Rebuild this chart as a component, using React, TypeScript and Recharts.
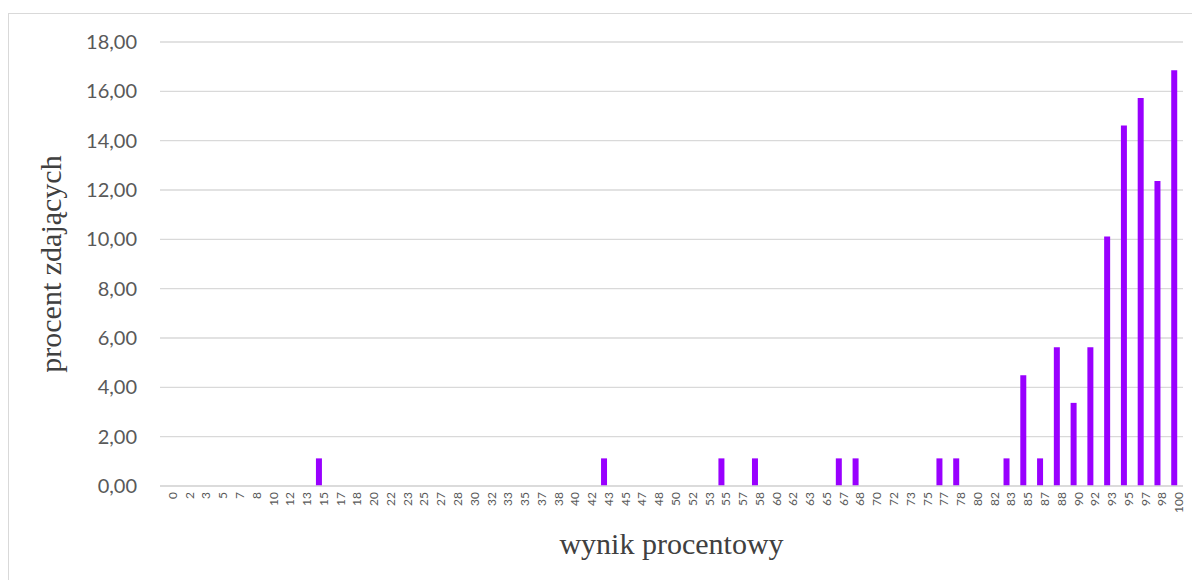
import React from "react";
import { BarChart, Bar, XAxis, YAxis, CartesianGrid } from "recharts";

const categories = [
  "0","2","3","5","7","8","10","12","13","15","17","18","20","22","23","25","27","28","30","32","33","35","37","38","40","42","43","45","47","48","50","52","53","55","57","58","60","62","63","65","67","68","70","72","73","75","77","78","80","82","83","85","87","88","90","92","93","95","97","98","100",
];

const nonZero: Record<string, number> = {
  "15": 1.12, "43": 1.12, "55": 1.12, "58": 1.12, "67": 1.12, "68": 1.12,
  "77": 1.12, "78": 1.12, "83": 1.12, "85": 4.49, "87": 1.12, "88": 5.62,
  "90": 3.37, "92": 5.62, "93": 10.11, "95": 14.61, "97": 15.73, "98": 12.36,
  "100": 16.85,
};

const percentValues = categories.map((c) => nonZero[c] ?? 0);

const yTicks = [0, 2, 4, 6, 8, 10, 12, 14, 16, 18];

const data = categories.map((c, i) => ({ wynik: c, procent: percentValues[i] }));

const TICK_FONT = "Lato, 'Liberation Sans', sans-serif";
const TITLE_FONT = "'Liberation Serif', serif";

const YTitle = (props: any) => {
  const vb = props.viewBox || {};
  const cx = 41;
  const cy = vb.y + vb.height / 2;
  return (
    <text
      x={cx}
      y={cy}
      transform={`rotate(-90, ${cx}, ${cy})`}
      textAnchor="middle"
      dominantBaseline="central"
      fontFamily={TITLE_FONT}
      fontSize={30}
      fill="#404040"
    >
      procent zdających
    </text>
  );
};

const XTitle = (props: any) => {
  const vb = props.viewBox || {};
  const cx = vb.x + vb.width / 2;
  const cy = 529;
  return (
    <text
      x={cx}
      y={cy}
      textAnchor="middle"
      dominantBaseline="central"
      fontFamily={TITLE_FONT}
      fontSize={30}
      fill="#404040"
    >
      wynik procentowy
    </text>
  );
};

export default function App() {
  return (
    <div
      style={{
        marginTop: 5,
        borderLeft: "1px solid #d9d9d9",
        borderTop: "1px solid #d9d9d9",
        width: 1300,
        height: 600,
        background: "#fff",
      }}
    >
      <BarChart
        width={1184}
        height={566}
        data={data}
        margin={{ top: 28, right: 10, left: 0, bottom: 0 }}
        barCategoryGap={0}
      >
        <CartesianGrid vertical={false} stroke="#d9d9d9" strokeWidth={1.3} />
        <XAxis
          dataKey="wynik"
          interval={0}
          height={94}
          tickLine={false}
          tickSize={0}
          tickMargin={6}
          axisLine={{ stroke: "#d9d9d9", strokeWidth: 1.5 }}
          tick={{
            fontSize: 12,
            fill: "#595959",
            fontFamily: TICK_FONT,
            angle: -90,
            textAnchor: "end",
            verticalAnchor: "middle",
          } as any}
          label={<XTitle />}
        />
        <YAxis
          width={151}
          domain={[0, 18]}
          ticks={yTicks}
          interval={0}
          axisLine={false}
          tickLine={false}
          tickSize={0}
          tickMargin={23}
          tick={{ fontSize: 20, fill: "#595959", fontFamily: TICK_FONT }}
          tickFormatter={(v: number) => v.toFixed(2).replace(".", ",")}
          label={<YTitle />}
        />
        <Bar dataKey="procent" fill="#9900ff" barSize={6} isAnimationActive={false} />
      </BarChart>
    </div>
  );
}
